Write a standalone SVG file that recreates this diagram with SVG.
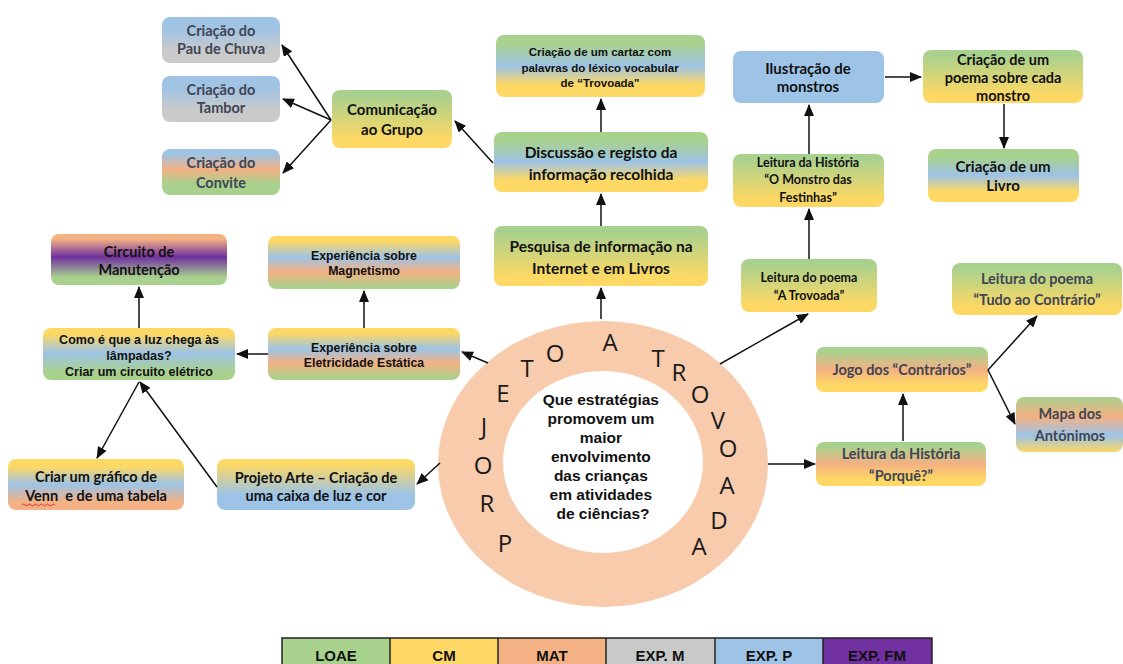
<svg xmlns="http://www.w3.org/2000/svg" width="1123" height="664" viewBox="0 0 1123 664">
  <defs>
    <style>
      .box { stroke: none; }
      .cal { font-family: Lato, "Open Sans", sans-serif; font-weight: 700; text-anchor: middle; fill: #111; }
      .ari { font-family: "Liberation Sans", Arial, sans-serif; font-weight: 700; text-anchor: middle; fill: #111; }
      .slate { fill: #3f4654; }
      .ring { font-family: "Open Sans", "Liberation Sans", sans-serif; font-size: 24px; text-anchor: middle; fill: #1a1a1a; }
      .edge { stroke: #111; stroke-width: 1.5; fill: none; marker-end: url(#arrow); }
      .leg { font-family: "Liberation Sans", Arial, sans-serif; font-weight: 700; font-size: 15px; text-anchor: middle; fill: #111; }
    </style>
    <marker id="arrow" markerUnits="userSpaceOnUse" markerWidth="12" markerHeight="10" refX="11" refY="5" orient="auto">
      <path d="M0,0 L12,5 L0,10 z" fill="#111"/>
    </marker>
    <!-- colour blends for the subject areas -->
    <linearGradient id="gBG" x1="0" y1="0" x2="0" y2="1">
      <stop offset="0" stop-color="#9DC3E6"/><stop offset="0.3" stop-color="#a4c4e2"/><stop offset="0.75" stop-color="#CACACA"/><stop offset="1" stop-color="#CACACA"/>
    </linearGradient>
    <linearGradient id="gBOG" x1="0" y1="0" x2="0" y2="1">
      <stop offset="0.1" stop-color="#9DC3E6"/><stop offset="0.45" stop-color="#F4B183"/><stop offset="0.75" stop-color="#A9D18E"/><stop offset="1" stop-color="#A9D18E"/>
    </linearGradient>
    <linearGradient id="gGY" x1="0" y1="0" x2="0" y2="1">
      <stop offset="0.1" stop-color="#A9D18E"/><stop offset="0.85" stop-color="#FDD865"/>
    </linearGradient>
    <linearGradient id="gGBY" x1="0" y1="0" x2="0" y2="1">
      <stop offset="0.15" stop-color="#A9D18E"/><stop offset="0.5" stop-color="#9DC3E6"/><stop offset="0.8" stop-color="#FDD865"/>
    </linearGradient>
    <linearGradient id="gOPG" x1="0" y1="0" x2="0" y2="1">
      <stop offset="0.1" stop-color="#F4B183"/><stop offset="0.45" stop-color="#7030A0"/><stop offset="0.85" stop-color="#A9D18E"/>
    </linearGradient>
    <linearGradient id="gYBOG" x1="0" y1="0" x2="0" y2="1">
      <stop offset="0.1" stop-color="#FDD865"/><stop offset="0.4" stop-color="#9DC3E6"/><stop offset="0.68" stop-color="#F4B183"/><stop offset="0.98" stop-color="#A9D18E"/>
    </linearGradient>
    <linearGradient id="gYBG" x1="0" y1="0" x2="0" y2="1">
      <stop offset="0.12" stop-color="#FDD865"/><stop offset="0.48" stop-color="#9DC3E6"/><stop offset="0.85" stop-color="#A9D18E"/>
    </linearGradient>
    <linearGradient id="gYBO" x1="0" y1="0" x2="0" y2="1">
      <stop offset="0.15" stop-color="#FDD865"/><stop offset="0.5" stop-color="#9DC3E6"/><stop offset="0.85" stop-color="#F4B183"/>
    </linearGradient>
    <linearGradient id="gYB" x1="0" y1="0" x2="0" y2="1">
      <stop offset="0.1" stop-color="#FDD865"/><stop offset="0.7" stop-color="#9DC3E6"/>
    </linearGradient>
    <linearGradient id="gGOY" x1="0" y1="0" x2="0" y2="1">
      <stop offset="0.1" stop-color="#A9D18E"/><stop offset="0.5" stop-color="#F4B183"/><stop offset="0.85" stop-color="#FDD865"/>
    </linearGradient>
    <linearGradient id="gGOBY" x1="0" y1="0" x2="0" y2="1">
      <stop offset="0" stop-color="#A9D18E"/><stop offset="0.35" stop-color="#F4B183"/><stop offset="0.7" stop-color="#9DC3E6"/><stop offset="1" stop-color="#FDD865"/>
    </linearGradient>
  </defs>

  <rect width="1123" height="664" fill="#ffffff"/>

  <!-- central ring -->
  <g id="hub">
    <ellipse cx="603" cy="464" rx="165" ry="143" fill="#F8CBAD"/>
    <ellipse cx="603" cy="462" rx="100" ry="91" fill="#ffffff"/>
    <text class="ari" font-size="15.5">
      <tspan x="603" y="405">Que estratégias</tspan>
      <tspan x="603" y="424">promovem um</tspan>
      <tspan x="603" y="443">maior</tspan>
      <tspan x="603" y="462">envolvimento</tspan>
      <tspan x="603" y="481">das crianças</tspan>
      <tspan x="603" y="500">em atividades</tspan>
      <tspan x="603" y="519">de ciências?</tspan>
    </text>
    <g class="ring">
      <text x="505" y="552">P</text>
      <text x="487" y="512">R</text>
      <text x="483" y="474">O</text>
      <text x="484" y="435">J</text>
      <text x="503" y="402">E</text>
      <text x="527" y="377">T</text>
      <text x="555" y="362">O</text>
      <text x="610" y="351">A</text>
      <text x="658" y="367">T</text>
      <text x="679" y="381">R</text>
      <text x="700" y="403">O</text>
      <text x="718" y="429">V</text>
      <text x="728" y="457">O</text>
      <text x="727" y="494">A</text>
      <text x="719" y="529">D</text>
      <text x="699" y="555">A</text>
    </g>
  </g>

  <!-- top-left: group communication -->
  <g id="pau-chuva">
    <rect class="box" x="162" y="17" width="118" height="46" rx="8" fill="url(#gBG)"/>
    <text class="cal slate" font-size="14.5"><tspan x="221" y="36">Criação do</tspan><tspan x="221" y="54">Pau de Chuva</tspan></text>
  </g>
  <g id="tambor">
    <rect class="box" x="162" y="76" width="118" height="46" rx="8" fill="url(#gBG)"/>
    <text class="cal slate" font-size="14.5"><tspan x="221" y="95">Criação do</tspan><tspan x="221" y="113">Tambor</tspan></text>
  </g>
  <g id="convite">
    <rect class="box" x="162" y="149" width="118" height="46" rx="8" fill="url(#gBOG)"/>
    <text class="cal slate" font-size="14.5"><tspan x="221" y="168">Criação do</tspan><tspan x="221" y="188">Convite</tspan></text>
  </g>
  <g id="comunicacao">
    <rect class="box" x="332" y="90" width="120" height="58" rx="8" fill="url(#gGY)"/>
    <text class="cal" font-size="15"><tspan x="392" y="115">Comunicação</tspan><tspan x="392" y="135">ao Grupo</tspan></text>
  </g>

  <!-- top-centre: research column -->
  <g id="cartaz">
    <rect class="box" x="496" y="35" width="209" height="62" rx="8" fill="url(#gGBY)"/>
    <text class="ari" font-size="11.5"><tspan x="600" y="56">Criação de um cartaz com</tspan><tspan x="600" y="72">palavras do léxico vocabular</tspan><tspan x="600" y="87">de “Trovoada"</tspan></text>
  </g>
  <g id="discussao">
    <rect class="box" x="494" y="132" width="214" height="60" rx="8" fill="url(#gGBY)"/>
    <text class="cal" font-size="15.5"><tspan x="601" y="158">Discussão e registo da</tspan><tspan x="601" y="180">informação recolhida</tspan></text>
  </g>
  <g id="pesquisa">
    <rect class="box" x="494" y="226" width="214" height="60" rx="8" fill="url(#gGY)"/>
    <text class="cal" font-size="15.5"><tspan x="601" y="252">Pesquisa de informação na</tspan><tspan x="601" y="274">Internet e em Livros</tspan></text>
  </g>

  <!-- top-right: monsters -->
  <g id="ilustracao">
    <rect class="box" x="733" y="51" width="151" height="52" rx="8" fill="#9DC3E6"/>
    <text class="cal" font-size="15"><tspan x="808" y="74">Ilustração de</tspan><tspan x="808" y="92">monstros</tspan></text>
  </g>
  <g id="poema-monstro">
    <rect class="box" x="923" y="50" width="160" height="53" rx="8" fill="url(#gGY)"/>
    <text class="cal" font-size="14.5"><tspan x="1003" y="65">Criação de um</tspan><tspan x="1003" y="83">poema sobre cada</tspan><tspan x="1003" y="101">monstro</tspan></text>
  </g>
  <g id="livro">
    <rect class="box" x="928" y="149" width="151" height="53" rx="8" fill="url(#gGBY)"/>
    <text class="cal" font-size="15"><tspan x="1003" y="172">Criação de um</tspan><tspan x="1003" y="191">Livro</tspan></text>
  </g>
  <g id="monstro-festinhas">
    <rect class="box" x="733" y="154" width="151" height="53" rx="8" fill="url(#gGY)"/>
    <text class="cal" font-size="12.5"><tspan x="808" y="167">Leitura da História</tspan><tspan x="808" y="184">“O Monstro das</tspan><tspan x="808" y="202">Festinhas”</tspan></text>
  </g>
  <g id="poema-trovoada">
    <rect class="box" x="741" y="259" width="136" height="53" rx="8" fill="url(#gGY)"/>
    <text class="cal" font-size="12.5"><tspan x="809" y="282">Leitura do poema</tspan><tspan x="809" y="300">“A Trovoada”</tspan></text>
  </g>

  <!-- right: opposites -->
  <g id="tudo-contrario">
    <rect class="box" x="952" y="263" width="170" height="52" rx="8" fill="url(#gGY)"/>
    <text class="cal slate" font-size="14.5"><tspan x="1037" y="284">Leitura do poema</tspan><tspan x="1037" y="305">“Tudo ao Contrário”</tspan></text>
  </g>
  <g id="jogo">
    <rect class="box" x="816" y="347" width="172" height="45" rx="8" fill="url(#gGOY)"/>
    <text class="cal slate" font-size="14.5" x="902" y="375">Jogo dos “Contrários”</text>
  </g>
  <g id="mapa">
    <rect class="box" x="1016" y="397" width="107" height="55" rx="8" fill="url(#gGOBY)"/>
    <text class="cal slate" font-size="14.5"><tspan x="1070" y="419">Mapa dos</tspan><tspan x="1070" y="441">Antónimos</tspan></text>
  </g>
  <g id="porque">
    <rect class="box" x="816" y="442" width="170" height="44" rx="8" fill="url(#gGOY)"/>
    <text class="cal slate" font-size="14.5"><tspan x="901" y="459">Leitura da História</tspan><tspan x="901" y="481">“Porquê?”</tspan></text>
  </g>

  <!-- left: light and electricity -->
  <g id="circuito-manutencao">
    <rect class="box" x="51" y="234" width="176" height="51" rx="8" fill="url(#gOPG)"/>
    <text class="cal" font-size="14.5"><tspan x="139" y="257">Circuito de</tspan><tspan x="139" y="275">Manutenção</tspan></text>
  </g>
  <g id="magnetismo">
    <rect class="box" x="268" y="236" width="192" height="53" rx="8" fill="url(#gYBOG)"/>
    <text class="ari" font-size="12.3"><tspan x="364" y="260">Experiência sobre</tspan><tspan x="364" y="275">Magnetismo</tspan></text>
  </g>
  <g id="como-luz">
    <rect class="box" x="43" y="328" width="192" height="52" rx="8" fill="url(#gYBG)"/>
    <text class="ari" font-size="12.5"><tspan x="139" y="344">Como é que a luz chega às</tspan><tspan x="139" y="360">lâmpadas?</tspan><tspan x="139" y="376">Criar um circuito elétrico</tspan></text>
  </g>
  <g id="eletricidade">
    <rect class="box" x="268" y="328" width="192" height="52" rx="8" fill="url(#gYBOG)"/>
    <text class="ari" font-size="12.3"><tspan x="364" y="352">Experiência sobre</tspan><tspan x="364" y="367">Eletricidade Estática</tspan></text>
  </g>
  <g id="venn">
    <rect class="box" x="8" y="459" width="176" height="51" rx="8" fill="url(#gYBO)"/>
    <text class="cal" font-size="14.5"><tspan x="96" y="482">Criar um gráfico de</tspan><tspan x="96" y="501">Venn&#160; e de uma tabela</tspan></text>
    <path d="M22,505 q1.5,-2 3,0 t3,0 t3,0 t3,0 t3,0 t3,0 t3,0 t3,0 t3,0 t3,0 t3,0" stroke="#e03030" stroke-width="1" fill="none"/>
  </g>
  <g id="projeto-arte">
    <rect class="box" x="217" y="459" width="198" height="51" rx="8" fill="url(#gYB)"/>
    <text class="cal" font-size="14.5"><tspan x="316" y="483">Projeto Arte – Criação de</tspan><tspan x="316" y="501">uma caixa de luz e cor</tspan></text>
  </g>

  <!-- connectors -->
  <g id="connectors">
    <line class="edge" x1="331" y1="120" x2="282" y2="45"/>
    <line class="edge" x1="331" y1="120" x2="283" y2="99"/>
    <line class="edge" x1="331" y1="120" x2="283" y2="173"/>
    <line class="edge" x1="493" y1="163" x2="455" y2="121"/>
    <line class="edge" x1="601" y1="132" x2="601" y2="99"/>
    <line class="edge" x1="601" y1="226" x2="601" y2="194"/>
    <line class="edge" x1="601" y1="319" x2="601" y2="288"/>
    <line class="edge" x1="720" y1="364" x2="808" y2="314"/>
    <line class="edge" x1="809" y1="259" x2="809" y2="209"/>
    <line class="edge" x1="809" y1="154" x2="809" y2="105"/>
    <line class="edge" x1="885" y1="77" x2="921" y2="77"/>
    <line class="edge" x1="1004" y1="104" x2="1004" y2="148"/>
    <line class="edge" x1="768" y1="464" x2="815" y2="464"/>
    <line class="edge" x1="903" y1="441" x2="903" y2="394"/>
    <line class="edge" x1="988" y1="370" x2="1037" y2="316"/>
    <line class="edge" x1="988" y1="370" x2="1015" y2="424"/>
    <line class="edge" x1="488" y1="363" x2="462" y2="352"/>
    <line class="edge" x1="268" y1="354" x2="237" y2="354"/>
    <line class="edge" x1="364" y1="328" x2="364" y2="291"/>
    <line class="edge" x1="139" y1="328" x2="139" y2="287"/>
    <line class="edge" x1="440" y1="463" x2="417" y2="484"/>
    <line class="edge" x1="217" y1="487" x2="140" y2="382"/>
    <line class="edge" x1="139" y1="382" x2="97" y2="458"/>
  </g>

  <!-- subject-area key -->
  <g id="legend">
    <rect x="282" y="638" width="108" height="30" fill="#A9D18E"/>
    <rect x="390" y="638" width="108" height="30" fill="#FDD865"/>
    <rect x="498" y="638" width="108" height="30" fill="#F4B183"/>
    <rect x="606" y="638" width="109" height="30" fill="#C9C9C9"/>
    <rect x="715" y="638" width="108" height="30" fill="#9DC3E6"/>
    <rect x="823" y="638" width="109" height="30" fill="#7030A0"/>
    <path d="M282,668 V638 H932 V668 M390,638 V668 M498,638 V668 M606,638 V668 M715,638 V668 M823,638 V668" stroke="#222" stroke-width="1.5" fill="none"/>
    <text class="leg" x="336" y="661">LOAE</text>
    <text class="leg" x="444" y="661">CM</text>
    <text class="leg" x="552" y="661">MAT</text>
    <text class="leg" x="660" y="661">EXP. M</text>
    <text class="leg" x="769" y="661">EXP. P</text>
    <text class="leg" x="877" y="661">EXP. FM</text>
  </g>
</svg>
